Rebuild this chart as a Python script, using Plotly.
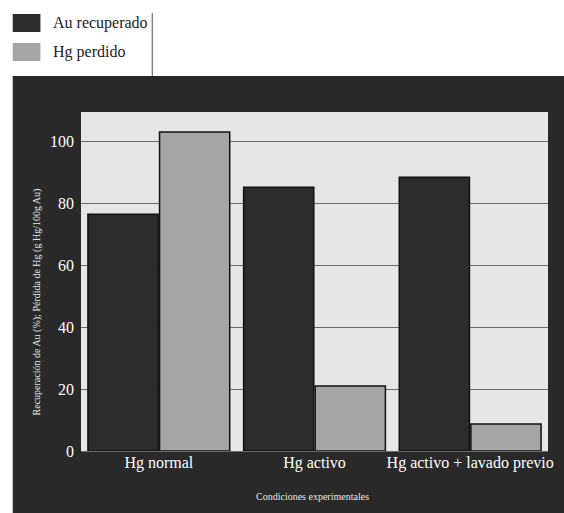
import plotly.graph_objects as go

categories = ["Hg normal", "Hg activo", "Hg activo + lavado previo"]
au_recuperado = [76.5, 85.2, 88.4]
hg_perdido = [103, 21, 8.7]
series_names = ["Au recuperado", "Hg perdido"]
y_ticks = [0, 20, 40, 60, 80, 100]

W, H = 564, 513
# plot area in window pixels
PX0, PX1, PY0, PY1 = 81, 553, 112, 451
L, R, T, B = PX0, W - PX1, PY0, H - PY1
pw, ph = W - L - R, H - T - B

def px_x(px):
    return (px - L) / pw

def px_y(py):
    return (H - B - py) / ph

FONT = "Liberation Serif"
dark = "#2c2c2c"
light = "#a5a5a5"
panel = "#292929"

fig = go.Figure()
fig.add_trace(go.Bar(x=categories, y=au_recuperado, name=series_names[0],
                     marker=dict(color=dark, line=dict(color="#111111", width=1.5)),
                     showlegend=False, hoverinfo="skip"))
fig.add_trace(go.Bar(x=categories, y=hg_perdido, name=series_names[1],
                     marker=dict(color=light, line=dict(color="#111111", width=1.5)),
                     showlegend=False, hoverinfo="skip"))

shapes = [
    # white header band and left strip over the dark paper
    dict(type="rect", xref="paper", yref="paper", layer="below",
         x0=px_x(-5), x1=px_x(W + 20), y0=px_y(-5), y1=px_y(76),
         fillcolor="white", line=dict(width=0)),
    dict(type="rect", xref="paper", yref="paper", layer="below",
         x0=px_x(-5), x1=px_x(12), y0=px_y(-5), y1=px_y(H + 5),
         fillcolor="white", line=dict(width=0)),
    dict(type="rect", xref="x domain", yref="y domain", layer="below",
         x0=0, x1=1, y0=0, y1=1, fillcolor="#e6e6e6", line=dict(width=0)),
    dict(type="line", xref="paper", yref="paper",
         x0=px_x(153), x1=px_x(153), y0=px_y(13), y1=px_y(76),
         line=dict(color="#555555", width=1)),
]
annotations = []
legend_colors = [dark, light]
for i, name in enumerate(series_names):
    top = 14 + i * 29
    shapes.append(dict(type="rect", xref="paper", yref="paper",
                       x0=px_x(12), x1=px_x(40), y0=px_y(top), y1=px_y(top + 18),
                       fillcolor=legend_colors[i], line=dict(width=0)))
    annotations.append(dict(text=name, xref="paper", yref="paper",
                            x=px_x(51), y=px_y(top + 9), xanchor="left", yanchor="middle",
                            showarrow=False, font=dict(family=FONT, size=16, color="#222222")))

annotations.append(dict(text="Recuperación de Au (%); Pérdida de Hg (g Hg/100g Au)",
                        xref="paper", yref="paper", x=px_x(37), y=px_y(302), textangle=-90,
                        xanchor="center", yanchor="middle", showarrow=False,
                        font=dict(family=FONT, size=10, color="#e8e8e8")))
annotations.append(dict(text="Condiciones experimentales", xref="paper", yref="paper",
                        x=px_x(315), y=px_y(496), xanchor="center", yanchor="middle",
                        showarrow=False, font=dict(family=FONT, size=10, color="#e8e8e8")))

fig.update_layout(
    width=W, height=H,
    margin=dict(l=L, r=R, t=T, b=B),
    paper_bgcolor=panel,
    plot_bgcolor="rgba(0,0,0,0)",
    barmode="group", bargap=0.08, bargroupgap=0.02,
    shapes=shapes, annotations=annotations,
    font=dict(family=FONT, color="white"),
    hovermode=False,
)
fig.update_xaxes(showgrid=False, showline=False, ticks="", zeroline=False,
                 tickfont=dict(family=FONT, size=16, color="white"))
fig.update_yaxes(range=[0, 109.5], tickvals=y_ticks, showgrid=True,
                 gridcolor="#6a6a6a", gridwidth=1, zeroline=True,
                 zerolinecolor="#6a6a6a", zerolinewidth=1, showline=False,
                 ticks="", ticklabelstandoff=6,
                 tickfont=dict(family=FONT, size=16, color="white"))

fig.write_html("out.html", config={"displayModeBar": False},
               post_script="document.body.style.margin='0';"
                           "document.body.style.overflow='hidden';"
                           "document.documentElement.style.overflow='hidden';")
